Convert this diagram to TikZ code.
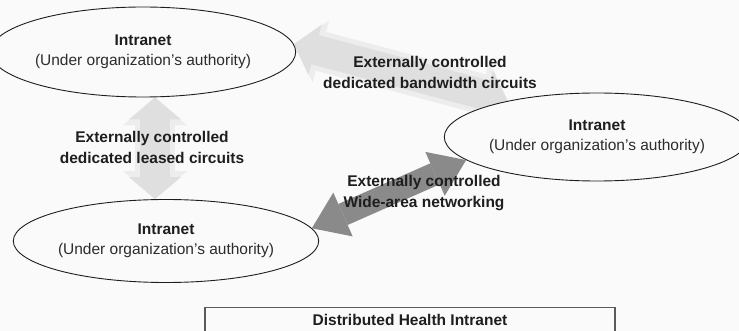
\documentclass[tikz,border=0pt]{standalone}
\usepackage{fontspec}
\setmainfont{Liberation Sans}
\usetikzlibrary{arrows.meta,shapes.geometric,calc}
\definecolor{paper}{HTML}{FAFAFA}
\definecolor{ink}{HTML}{1E1E1E}
\definecolor{softink}{HTML}{2C2C2C}
\definecolor{linkdark}{HTML}{8A8A8A}
\definecolor{linklight}{HTML}{DFDFDF}
\definecolor{linkhalo}{HTML}{EDEDED}
\definecolor{boxline}{HTML}{5A5A5A}
\pgfdeclarelayer{page}
\pgfdeclarelayer{links}
\pgfsetlayers{page,links,main}
\newcommand{\textsz}{\fontsize{15.5}{20.5}\selectfont}
\tikzset{
  net/.style={ellipse, draw=ink, line width=0.9pt, fill=paper, inner sep=0pt,
    align=center, text=softink, font=\textsz},
  lbl/.style={align=center, font=\textsz\bfseries, text=ink, inner sep=0pt},
  wan/.style={draw=linkdark, line width=23pt,
    {Triangle[width=48pt,length=34pt,line width=0pt]}-{Triangle[width=48pt,length=34pt,line width=0pt]}},
  leasecore/.style={draw=linklight, line width=30pt,
    {Triangle[width=52pt,length=22pt,line width=0pt]}-{Triangle[width=52pt,length=22pt,line width=0pt]}},
  leasehalo/.style={draw=linkhalo, line width=40pt,
    {Triangle[width=64pt,length=28pt,line width=0pt]}-{Triangle[width=64pt,length=28pt,line width=0pt]}},
}
\begin{document}
\begin{tikzpicture}[x=1pt, y=-1pt]
  % page
  \begin{pgfonlayer}{page}
    \fill[paper] (0,0) rectangle (739,331);
  \end{pgfonlayer}
  \clip (0,0) rectangle (739,331);

  % the three intranets
  \node[net, minimum width=280pt, minimum height=90pt] (tl) at (143,52)
    {\textbf{\color{ink}Intranet}\\(Under organization’s authority)};
  \node[net, minimum width=280pt, minimum height=88pt] (rt) at (597,137)
    {\textbf{\color{ink}Intranet}\\(Under organization’s authority)};
  \node[net, minimum width=282pt, minimum height=83pt] (bl) at (166,241)
    {\textbf{\color{ink}Intranet}\\(Under organization’s authority)};

  % links between them
  \begin{pgfonlayer}{links}
    \draw[leasehalo] ($(tl.south)+(12,0)$) -- ($(bl.north)+(-11,0)$);
    \draw[leasecore] ($(tl.south)+(12,0)$) -- ($(bl.north)+(-11,0)$);
    \draw[leasehalo] (tl.3) -- (rt.158);
    \draw[leasecore] (tl.3) -- (rt.158);
    \draw[wan] (bl.5) -- (rt.190);
  \end{pgfonlayer}

  % link labels
  \node[lbl] (l1) at (152,147.5) {Externally controlled\\dedicated leased circuits};
  \node[lbl] (l2) at (430,72.5) {Externally controlled\\dedicated bandwidth circuits};
  \node[lbl] (l3) at (424,193) {Externally controlled\\Wide-area networking};

  % caption box
  \node[draw=boxline, line width=1.2pt, minimum width=410pt, minimum height=50pt,
        anchor=north, inner sep=0pt] (box) at (410,307) {};
  \node[lbl] (title) at (410,320) {Distributed Health Intranet};
\end{tikzpicture}
\end{document}
